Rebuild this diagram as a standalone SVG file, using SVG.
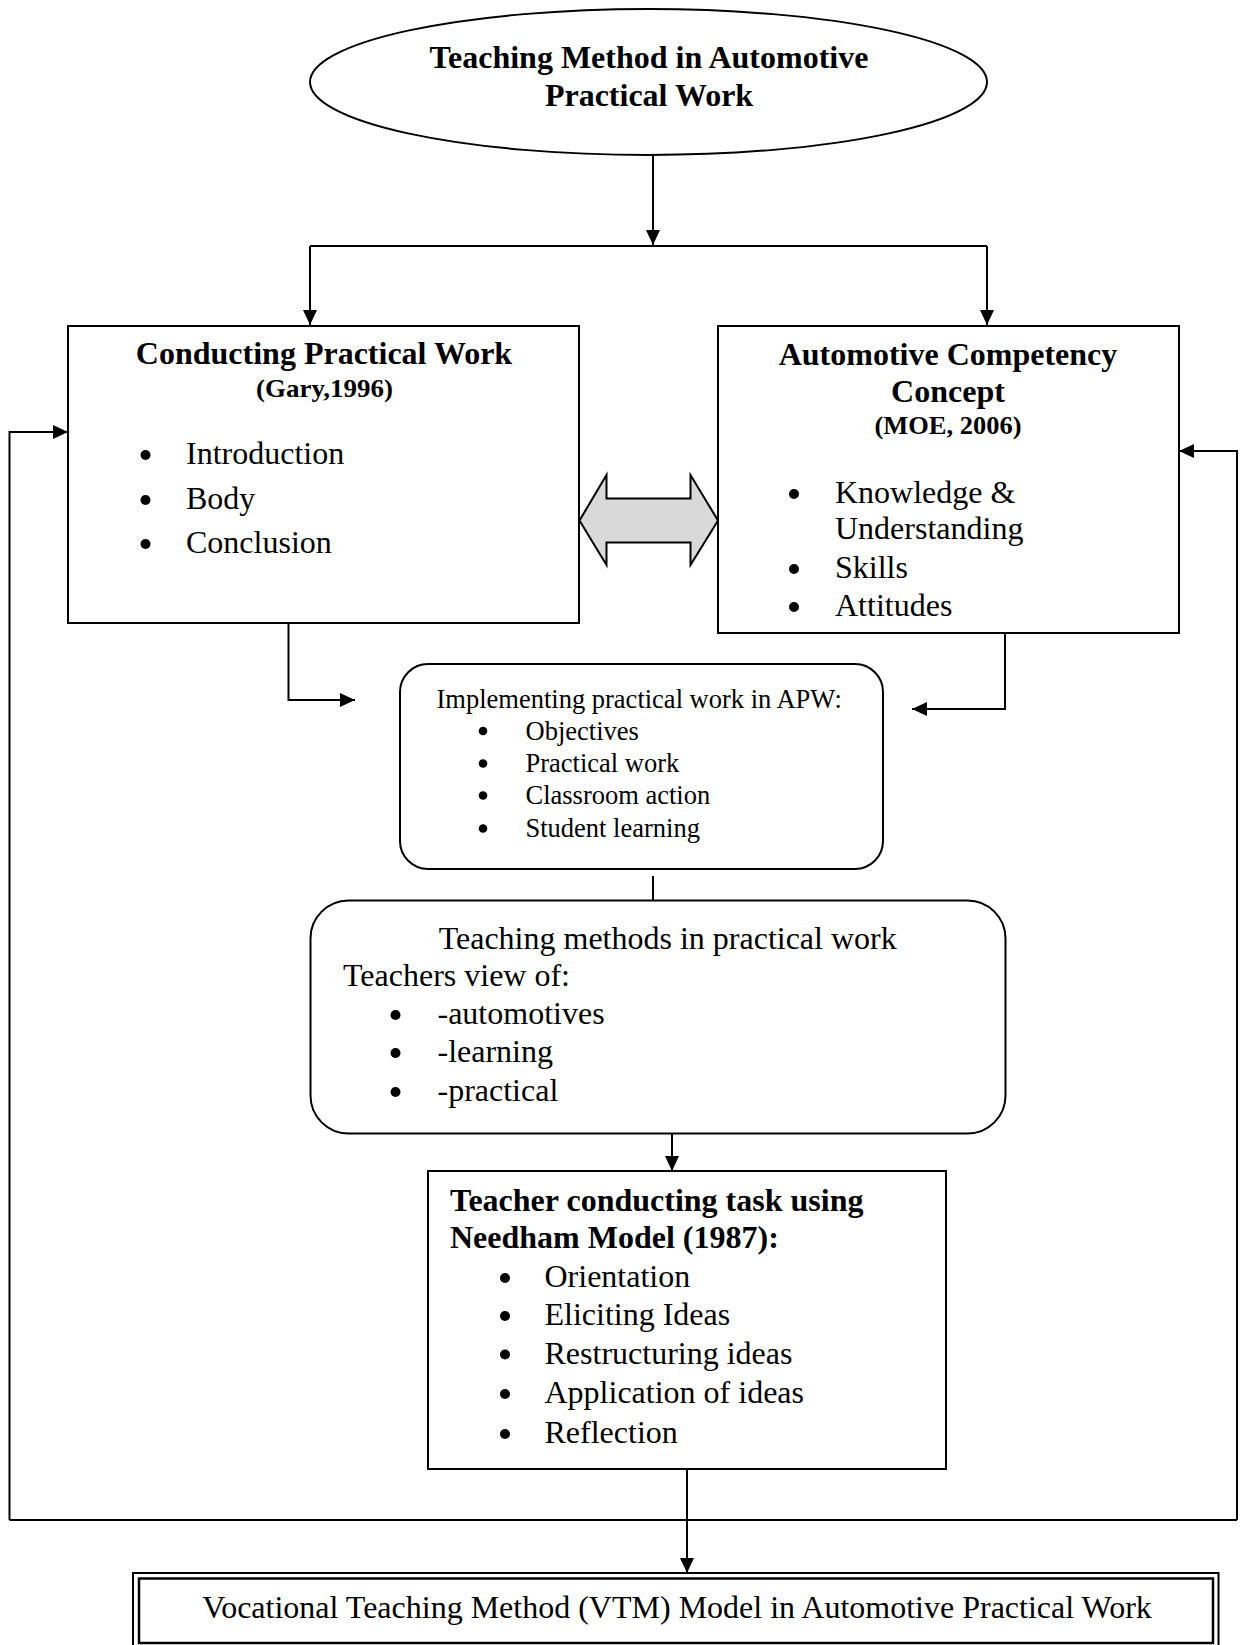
<svg xmlns="http://www.w3.org/2000/svg" width="1243" height="1645" viewBox="0 0 1243 1645">
<style>
.t{font-family:"Liberation Serif","Times New Roman",serif;fill:#000}
.b{font-weight:bold}
.s32{font-size:32px}
.s26{font-size:26.5px}
.m{text-anchor:middle}
.box{fill:#fff;stroke:#000;stroke-width:2}
.ln{fill:none;stroke:#000;stroke-width:2}
.dot{fill:#000}
</style>
<defs>
<marker id="ah" markerUnits="userSpaceOnUse" markerWidth="16" markerHeight="14" refX="15" refY="7" orient="auto">
<path d="M0,0 L15,7 L0,14 z" fill="#000"/>
</marker>
</defs>
<rect width="1243" height="1645" fill="#fff"/>

<g id="connectors">
<path class="ln" d="M653,155 V245" marker-end="url(#ah)"/>
<path class="ln" d="M310,246 H987"/>
<path class="ln" d="M310,246 V325" marker-end="url(#ah)"/>
<path class="ln" d="M987,246 V325" marker-end="url(#ah)"/>
<path class="ln" d="M288.5,623 V700 H355" marker-end="url(#ah)"/>
<path class="ln" d="M1005,633 V709 H912" marker-end="url(#ah)"/>
<path class="ln" d="M653,876 V900"/>
<path class="ln" d="M672,1134 V1171" marker-end="url(#ah)"/>
<path class="ln" d="M687,1469 V1573" marker-end="url(#ah)"/>
<path class="ln" d="M9.5,1520 H1237"/>
<path class="ln" d="M9.5,1520 V432 H68" marker-end="url(#ah)"/>
<path class="ln" d="M1237,1520 V451 H1179" marker-end="url(#ah)"/>
<polygon points="579.5,520.5 606.5,475 606.5,498.5 690.5,498.5 690.5,475 718,520.5 690.5,565 690.5,542.5 606.5,542.5 606.5,565" fill="#d9d9d9" stroke="#000" stroke-width="2" stroke-linejoin="miter"/>
</g>

<g id="title">
<ellipse cx="648.5" cy="82" rx="338.5" ry="73" class="box"/>
<text class="t b s32 m" x="649" y="68">Teaching Method in Automotive</text>
<text class="t b s32 m" x="649" y="106">Practical Work</text>
</g>

<g id="conducting">
<rect x="68" y="326" width="511" height="297" class="box"/>
<text class="t b s32 m" x="324" y="364">Conducting Practical Work</text>
<text class="t b m" x="324.5" y="397" font-size="25" textLength="137" lengthAdjust="spacingAndGlyphs">(Gary,1996)</text>
<circle class="dot" cx="145.5" cy="455" r="5"/>
<circle class="dot" cx="145.5" cy="500" r="5"/>
<circle class="dot" cx="145.5" cy="544" r="5"/>
<text class="t s32" x="186" y="464">Introduction</text>
<text class="t s32" x="186" y="509">Body</text>
<text class="t s32" x="186" y="553">Conclusion</text>
</g>

<g id="competency">
<rect x="718" y="326" width="461" height="307" class="box"/>
<text class="t b s32 m" x="948" y="365">Automotive Competency</text>
<text class="t b s32 m" x="948" y="402">Concept</text>
<text class="t b m" x="948" y="434" font-size="25" textLength="147" lengthAdjust="spacingAndGlyphs">(MOE, 2006)</text>
<circle class="dot" cx="794" cy="494" r="5"/>
<circle class="dot" cx="794" cy="569" r="5"/>
<circle class="dot" cx="794" cy="607" r="5"/>
<text class="t s32" x="835" y="503">Knowledge &amp;</text>
<text class="t s32" x="835" y="539">Understanding</text>
<text class="t s32" x="835" y="578">Skills</text>
<text class="t s32" x="835" y="616">Attitudes</text>
</g>

<g id="implementing">
<rect x="400" y="664" width="483" height="205" rx="28" ry="28" class="box"/>
<text class="t s26" x="436.5" y="707.5">Implementing practical work in APW:</text>
<circle class="dot" cx="483" cy="731" r="4.3"/>
<circle class="dot" cx="483" cy="763.5" r="4.3"/>
<circle class="dot" cx="483" cy="795.5" r="4.3"/>
<circle class="dot" cx="483" cy="828.5" r="4.3"/>
<text class="t s26" x="525.5" y="739.5">Objectives</text>
<text class="t s26" x="525.5" y="772">Practical work</text>
<text class="t s26" x="525.5" y="804">Classroom action</text>
<text class="t s26" x="525.5" y="837">Student learning</text>
</g>

<g id="teaching-methods">
<rect x="310.5" y="900.5" width="695" height="233" rx="38" ry="38" class="box"/>
<text class="t s32 m" x="667.7" y="949">Teaching methods in practical work</text>
<text class="t s32" x="343" y="986">Teachers view of:</text>
<circle class="dot" cx="395.5" cy="1015" r="5"/>
<circle class="dot" cx="395.5" cy="1053" r="5"/>
<circle class="dot" cx="395.5" cy="1092" r="5"/>
<text class="t s32" x="437.5" y="1024">-automotives</text>
<text class="t s32" x="437.5" y="1062">-learning</text>
<text class="t s32" x="437.5" y="1101">-practical</text>
</g>

<g id="needham">
<rect x="428" y="1171" width="518" height="298" class="box"/>
<text class="t b s32" x="450" y="1211">Teacher conducting task using</text>
<text class="t b s32" x="450" y="1248">Needham Model (1987):</text>
<circle class="dot" cx="505" cy="1278" r="5"/>
<circle class="dot" cx="505" cy="1316" r="5"/>
<circle class="dot" cx="505" cy="1354.5" r="5"/>
<circle class="dot" cx="505" cy="1394" r="5"/>
<circle class="dot" cx="505" cy="1434" r="5"/>
<text class="t s32" x="544.5" y="1287">Orientation</text>
<text class="t s32" x="544.5" y="1325">Eliciting Ideas</text>
<text class="t s32" x="544.5" y="1363.5">Restructuring ideas</text>
<text class="t s32" x="544.5" y="1403">Application of ideas</text>
<text class="t s32" x="544.5" y="1443">Reflection</text>
</g>

<g id="vtm">
<rect x="133" y="1573" width="1085.5" height="80" fill="#fff" stroke="#000" stroke-width="2"/>
<rect x="139" y="1578.5" width="1074" height="64.5" fill="none" stroke="#000" stroke-width="2.5"/>
<text class="t s32 m" x="677" y="1618">Vocational Teaching Method (VTM) Model in Automotive Practical Work</text>
</g>
</svg>
